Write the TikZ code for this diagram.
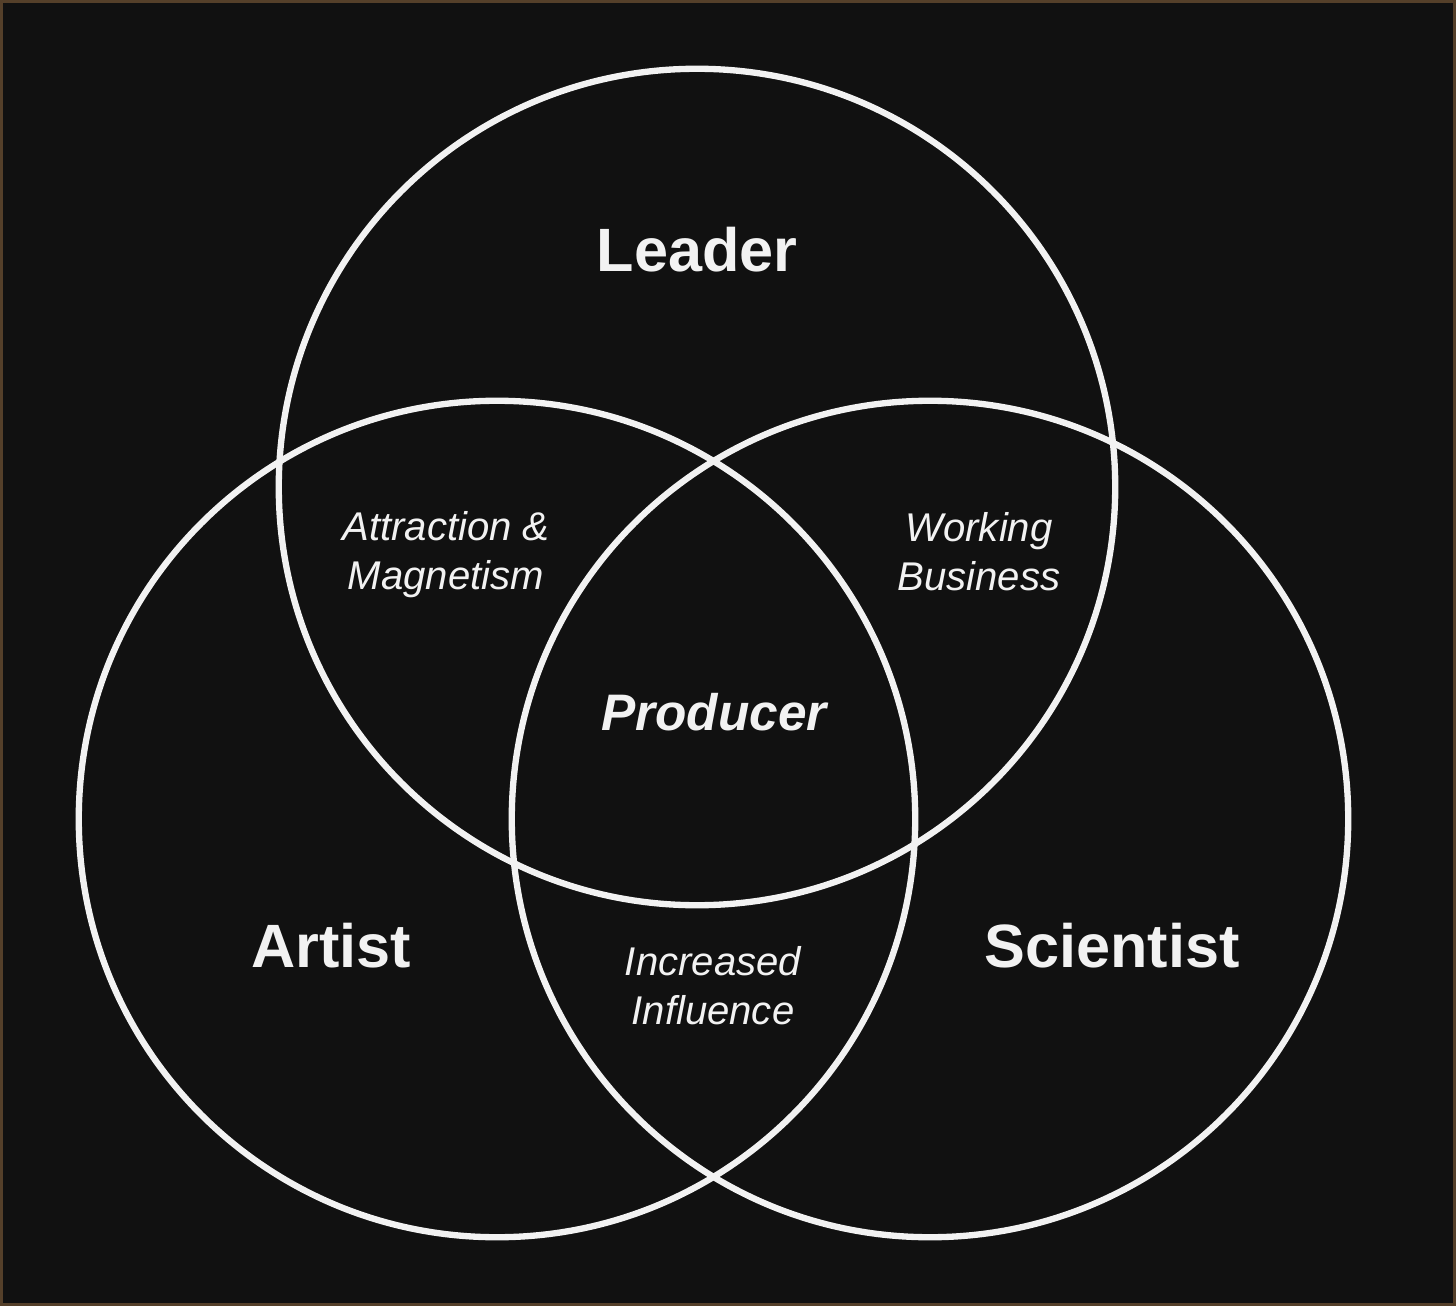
\documentclass[tikz,border=0pt]{standalone}
\usepackage{fontspec}
\setmainfont{Liberation Sans}
\usetikzlibrary{positioning}
\definecolor{BgDark} {HTML}{111111}
\definecolor{Frame}  {HTML}{55402A}
\definecolor{Ring}   {HTML}{F2F2F2}
\tikzset{
  ring/.style={
    circle, draw=Ring, line width=1.8pt,
    minimum size=8.36cm, inner sep=0pt,
  },
  role/.style={
    font=\fontsize{17.4}{20}\selectfont\bfseries, text=Ring,
  },
  core/.style={
    font=\fontsize{14.6}{18}\selectfont\bfseries\itshape, text=Ring,
  },
  mix/.style={
    font=\fontsize{11.4}{14}\selectfont\itshape, text=Ring,
    align=center,
  },
}

\begin{document}
\begin{tikzpicture}[x=0.01cm,y=-0.01cm]
    \useasboundingbox (0,0) rectangle (1456,1306);
    \fill[BgDark] (0,0) rectangle (1456,1306);
    \draw[Frame,line width=0.9pt] (1.5,1.5) rectangle (1454.5,1304.5);

    \node[ring] (lead) at (697,487) {};
    \node[ring] (art)  at (497,819) {};
    \node[ring] (sci)  at (930,819) {};

    \node[role] (leadT) at (697,250) {Leader};
    \node[role] (artT)  at (331,946) {Artist};
    \node[role] (sciT)  at (1112,946) {Scientist};
    \node[core] (prod)  at (714,712) {Producer};

    \node[mix] (attr) at (446,555) {Attraction \&\\Magnetism};
    \node[mix] (work) at (979,552) {Working\\Business};
    \node[mix] (infl) at (713,986) {Increased\\Influence};
  \end{tikzpicture}
\end{document}
